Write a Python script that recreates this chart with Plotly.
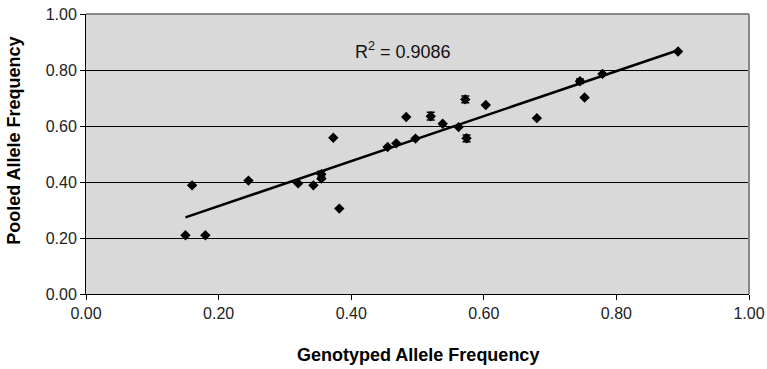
import numpy as np
import plotly.graph_objects as go

# genotyped vs pooled allele frequencies
genotyped = [0.150, 0.180, 0.160, 0.245, 0.320, 0.343, 0.355, 0.355, 0.382, 0.373,
             0.455, 0.468, 0.497, 0.483, 0.520, 0.538, 0.562, 0.572, 0.574, 0.603,
             0.680, 0.745, 0.752, 0.779, 0.893]
pooled = [0.210, 0.210, 0.388, 0.405, 0.395, 0.388, 0.412, 0.428, 0.305, 0.558,
          0.525, 0.538, 0.555, 0.632, 0.635, 0.608, 0.596, 0.695, 0.556, 0.675,
          0.628, 0.760, 0.702, 0.786, 0.866]
err = [0.0, 0.0, 0.0, 0.0, 0.0, 0.0, 0.0, 0.010, 0.0, 0.0,
       0.0, 0.0, 0.0, 0.0, 0.014, 0.0, 0.0, 0.012, 0.012, 0.0,
       0.0, 0.008, 0.0, 0.0, 0.0]
r2_label = "R<sup>2</sup> = 0.9086"

x = np.array(genotyped)
y = np.array(pooled)
slope, intercept = np.polyfit(x, y, 1)
fit_x = [x.min(), x.max()]
fit_y = [slope * v + intercept for v in fit_x]

fnt = "Liberation Sans, Arial"

fig = go.Figure()

fig.add_trace(go.Scatter(
    x=fit_x, y=fit_y, mode="lines",
    line=dict(color="black", width=2.5), hoverinfo="skip", showlegend=False
))

fig.add_trace(go.Scatter(
    x=genotyped, y=pooled, mode="markers",
    marker=dict(symbol="diamond", size=8, color="black"),
    error_y=dict(type="data", array=err, visible=True, color="black", thickness=1.5, width=4),
    showlegend=False
))

# R2 label
fig.add_annotation(
    x=0.478, y=0.871, text=r2_label, showarrow=False,
    font=dict(family=fnt, size=18, color="#111111")
)

# axis titles
fig.add_annotation(
    xref="paper", yref="paper", x=0.5, y=-0.218, xanchor="center", yanchor="middle",
    text="<b>Genotyped Allele Frequency</b>",
    showarrow=False, font=dict(family=fnt, size=18, color="black")
)
fig.add_annotation(
    xref="paper", yref="paper", x=-0.109, y=0.546, xanchor="center", yanchor="middle",
    text="<b>Pooled Allele Frequency</b>",
    showarrow=False, textangle=-90, font=dict(family=fnt, size=18, color="black")
)

tick_font = dict(family=fnt, size=16, color="#222222")

fig.update_layout(
    width=767, height=369,
    margin=dict(l=86, r=18, t=14, b=75),
    paper_bgcolor="white",
    plot_bgcolor="#d9d9d9",
    xaxis=dict(
        range=[0, 1], tickvals=[0, 0.2, 0.4, 0.6, 0.8, 1.0], tickformat=".2f",
        showgrid=False, zeroline=False, showline=True, linecolor="black", linewidth=1,
        ticks="outside", ticklen=5, tickcolor="black", tickfont=tick_font,
        automargin=False
    ),
    yaxis=dict(
        range=[0, 1], tickvals=[0, 0.2, 0.4, 0.6, 0.8, 1.0], tickformat=".2f",
        showgrid=True, gridcolor="black", gridwidth=1, zeroline=False,
        showline=True, linecolor="black", linewidth=1,
        ticks="outside", ticklen=5, tickcolor="black", tickfont=tick_font,
        automargin=False
    ),
    shapes=[
        dict(type="line", xref="paper", yref="paper", x0=0, y0=1, x1=1, y1=1,
             line=dict(color="#888888", width=2)),
        dict(type="line", xref="paper", yref="paper", x0=1, y0=0, x1=1, y1=1,
             line=dict(color="#888888", width=2)),
    ]
)

# drop the default page margin so the figure fills the window
fig.write_html("out.html", config={"displayModeBar": False},
               post_script="document.body.style.margin='0';document.body.style.overflow='hidden';")
